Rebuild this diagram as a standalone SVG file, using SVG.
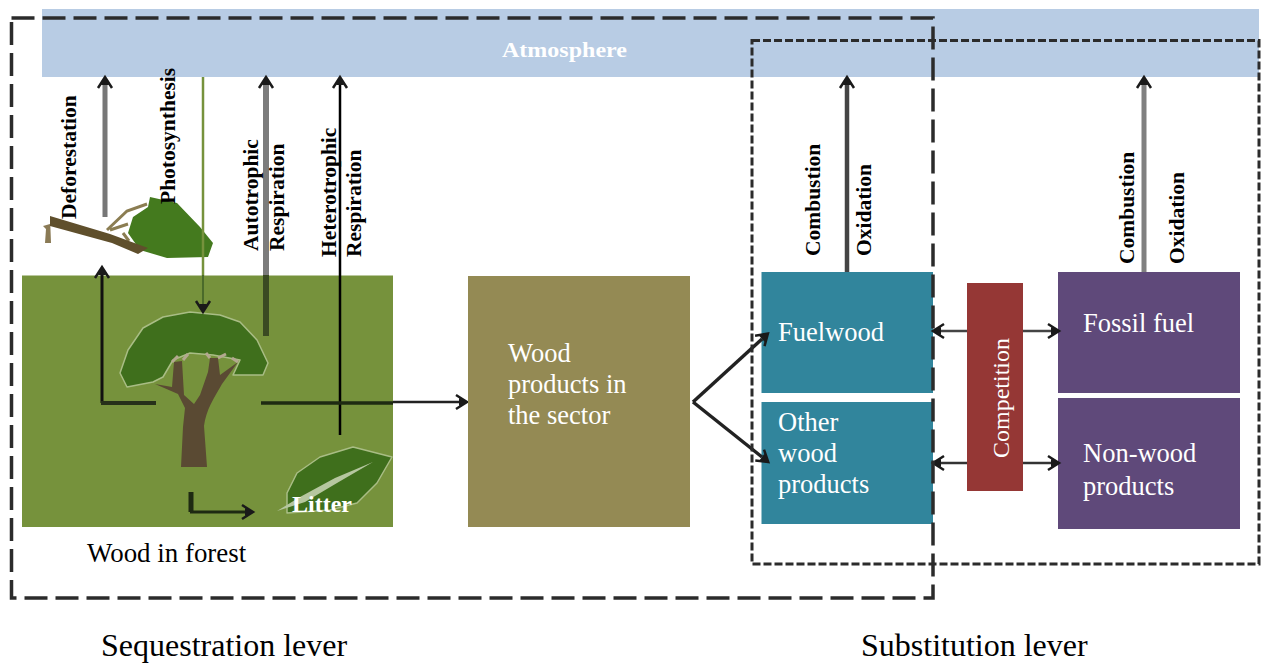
<svg xmlns="http://www.w3.org/2000/svg" width="1261" height="664" viewBox="0 0 1261 664">
<style>
text{font-family:"Liberation Serif","Times New Roman",serif}
.v{font-weight:bold;font-size:21.500px;fill:#000}
.w{fill:#fff;font-size:26.500px}
.c{fill:none}
</style>
<defs>
<marker id="ah" markerUnits="userSpaceOnUse" markerWidth="20" markerHeight="20" refX="6" refY="10" orient="auto">
<path d="M3 3 L14 10 L3 17" fill="none" stroke="#1a1a1a" stroke-width="2.500"/>
<path d="M6 6 L15 10 L6 14 Z" fill="#1a1a1a"/>
</marker>
</defs>
<rect width="1261" height="664" fill="#fff"/>
<g id="atmosphere"><rect x="42" y="9" width="1217" height="68" fill="#b8cce4"/><text x="564.500" y="57" text-anchor="middle" font-size="21" font-weight="bold" fill="#fff" textLength="125" lengthAdjust="spacingAndGlyphs">Atmosphere</text></g>
<g id="wood-in-forest">
<rect x="22" y="275.500" width="371" height="251.500" fill="#76923c"/>
<path d="M120 373 L128 350 L143 328 L163 317 L190 312 L220 315 L240 322 L257 340 L268 363 L263 375 L233 375 L240 360 L213 355 L190 353 L173 360 L163 377 L153 382 L127 387 Z" fill="#3f6f1c" stroke="#a9bd85" stroke-width="1.500" stroke-linejoin="round"/>
<path d="M181 467 L183 427 L185 408 L178 394 L155 384 L172 387 L174 362 L182 361 L184 395 L194 404 L200 395 L208 372 L210 358 L218 358 L220 375 L238 362 L222 384 C214 398 206 410 204 426 L207 467 Z" fill="#5a4a33"/>
<path d="M172 362 L178 356 M183 360 L188 354 M210 358 L206 353 M218 358 L226 354 M238 362 L232 358" class="c" stroke="#b3a88f" stroke-width="3"/>
<path d="M287 493 L297 473 L320 457 L353 447 L392 457 L377 483 L357 503 L330 510 L287 513 Z" fill="#3f6f1c" stroke="#a9bd85" stroke-width="1.500" stroke-linejoin="round"/>
<path d="M277 511 L300 497 L335 478 L373 462 L337 483 L305 502 Z" fill="#b6c7a0"/>
<text x="292" y="512" font-size="24" font-weight="bold" fill="#fff">Litter</text>
<text x="87" y="562" font-size="26.900">Wood in forest</text>
</g>
<g id="fallen-tree">
<path d="M50 217 L51 243 L45 243 L46 229 L43 226 L50 224 Z" fill="#8a7a55"/>
<path d="M107 230 L127 211 L147 204 M110 230 L128 224 M123 233 L129 241" class="c" stroke="#8b7d52" stroke-width="3"/>
<path d="M150 197 L177 203 L200 227 L213 243 L208 257 L167 258 L140 250 L128 233 L133 217 L148 207 Z" fill="#447a1e"/>
<path d="M50 216 L110 234 L148 248 L138 254 L112 243 L50 226 Z" fill="#5f4f2c"/>
</g>
<g id="connectors" fill="none">
<path d="M105 217V85" stroke="#777" stroke-width="5" marker-end="url(#ah)"/>
<path d="M203 77V310" stroke="#76923c" stroke-width="2.500"/>
<path d="M203 275V304" stroke="#4b6a2a" stroke-width="2" marker-end="url(#ah)"/>
<path d="M266 336V85" stroke="#7c7c7c" stroke-width="6" marker-end="url(#ah)"/>
<path d="M266 275V336" stroke="#3a4a22" stroke-width="6"/>
<path d="M340 435V85" stroke="#000" stroke-width="2.500" marker-end="url(#ah)"/>
<path d="M102 403V275" stroke="#111" stroke-width="3" marker-end="url(#ah)"/>
<path d="M101 403H156" stroke="#26301a" stroke-width="4"/>
<path d="M261 403H393" stroke="#1e2a12" stroke-width="3.500"/>
<path d="M393 402H459" stroke="#222" stroke-width="2.500" marker-end="url(#ah)"/>
<path d="M191 492V512" stroke="#1e2a12" stroke-width="5"/>
<path d="M190 512H245" stroke="#1e2a12" stroke-width="3" marker-end="url(#ah)"/>
<path d="M847 272V85" stroke="#444" stroke-width="4.500" marker-end="url(#ah)"/>
<path d="M1144 272V85" stroke="#808080" stroke-width="5" marker-end="url(#ah)"/>
</g>
<g id="wood-products"><rect x="468" y="276" width="222" height="251" fill="#948a54"/><text class="w" x="508" y="362">Wood</text><text class="w" x="508" y="393">products in</text><text class="w" x="508" y="424">the sector</text></g>
<g id="fuelwood"><rect x="761.500" y="272" width="171.500" height="121" fill="#31859c"/><text class="w" x="778" y="341">Fuelwood</text></g>
<g id="other-wood-products"><rect x="761.500" y="402" width="171.500" height="122" fill="#31859c"/><text class="w" x="778" y="431">Other</text><text class="w" x="778" y="462">wood</text><text class="w" x="778" y="493">products</text></g>
<g id="competition"><rect x="967" y="283" width="56" height="208" fill="#953735"/><text class="w" transform="translate(1009 458) rotate(-90)" style="font-size:24px">Competition</text></g>
<g id="fossil-fuel"><rect x="1058" y="272" width="182" height="121" fill="#5f497a"/><text class="w" x="1083" y="332">Fossil fuel</text></g>
<g id="non-wood-products"><rect x="1058" y="398" width="182" height="131" fill="#5f497a"/><text class="w" x="1083" y="462">Non-wood</text><text class="w" x="1083" y="495">products</text></g>
<g id="connectors-2" fill="none">
<path d="M693 402L762 339" stroke="#222" stroke-width="3.500" marker-end="url(#ah)"/>
<path d="M693 402L762 457" stroke="#222" stroke-width="3.500" marker-end="url(#ah)"/>
<path d="M967 331H941" stroke="#444" stroke-width="2.500" marker-end="url(#ah)"/>
<path d="M1023 331H1051" stroke="#444" stroke-width="2.500" marker-end="url(#ah)"/>
<path d="M967 463H941" stroke="#333" stroke-width="2.500" marker-end="url(#ah)"/>
<path d="M1023 463H1051" stroke="#333" stroke-width="2.500" marker-end="url(#ah)"/>
</g>
<g id="flow-labels">
<text class="v" transform="translate(76 219) rotate(-90)">Deforestation</text>
<text class="v" transform="translate(175 204) rotate(-90)">Photosynthesis</text>
<text class="v" transform="translate(258 251) rotate(-90)">Autotrophic</text>
<text class="v" transform="translate(284 251) rotate(-90)">Respiration</text>
<text class="v" transform="translate(336 257) rotate(-90)">Heterotrophic</text>
<text class="v" transform="translate(361 257) rotate(-90)">Respiration</text>
<text class="v" transform="translate(820 256) rotate(-90)">Combustion</text>
<text class="v" transform="translate(871 256) rotate(-90)">Oxidation</text>
<text class="v" transform="translate(1134 264) rotate(-90)">Combustion</text>
<text class="v" transform="translate(1184 264) rotate(-90)">Oxidation</text>
</g>
<g id="sequestration-lever"><rect x="11.500" y="18" width="921.500" height="580" fill="none" stroke="#2b2b2b" stroke-width="3.500" stroke-dasharray="23 8"/><text x="101" y="656" font-size="32">Sequestration lever</text></g>
<g id="substitution-lever"><rect x="752" y="40.500" width="507" height="523.500" fill="none" stroke="#2b2b2b" stroke-width="3" stroke-dasharray="8 3"/><text x="861" y="656" font-size="32">Substitution lever</text></g>
</svg>
